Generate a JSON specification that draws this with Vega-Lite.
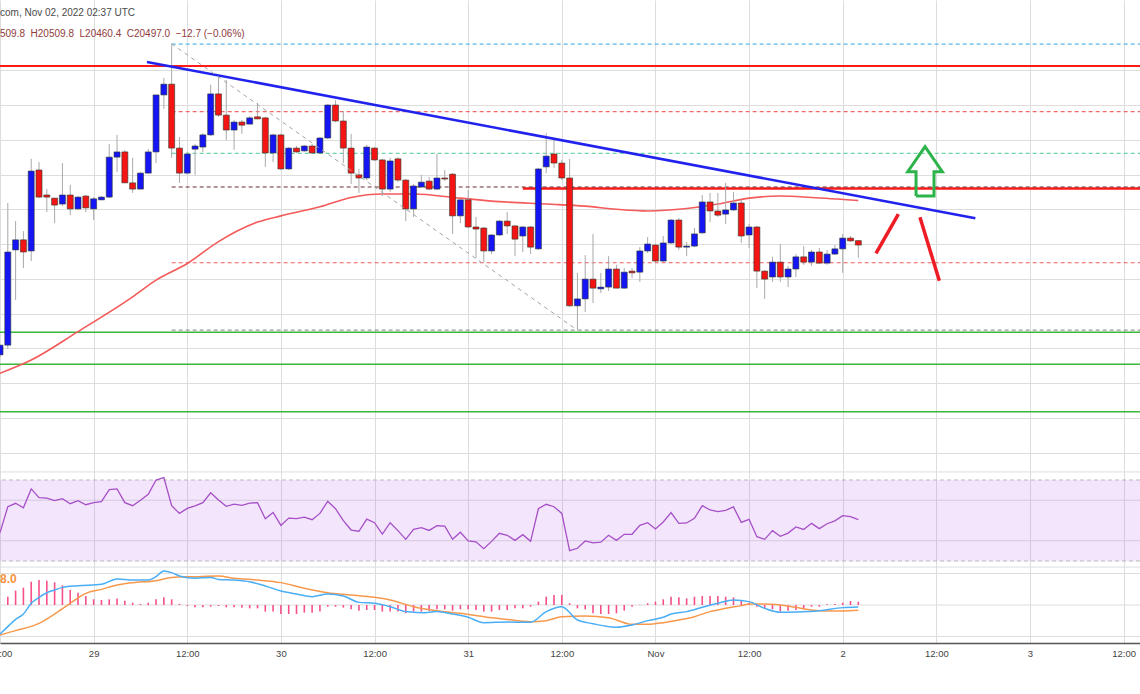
{
  "$schema": "https://vega.github.io/schema/vega-lite/v6.json",
  "width": 1140,
  "height": 643,
  "autosize": {"type": "none"},
  "padding": {"left": 0, "top": 0, "right": 0, "bottom": 51},
  "background": "#ffffff",
  "config": {"view": {"stroke": null}},
  "datasets": {
    "bars": [
      {"t":"2022-10-28T12:00:00Z","o":20181,"hi":20209,"lo":20175,"c":20209,"rsi":44.0},
      {"t":"2022-10-28T13:00:00Z","o":20209,"hi":20618,"lo":20198,"c":20477,"rsi":56.8,"hist":7.9},
      {"t":"2022-10-28T14:00:00Z","o":20483,"hi":20566,"lo":20339,"c":20512,"rsi":58.5,"hist":13.7},
      {"t":"2022-10-28T15:00:00Z","o":20512,"hi":20537,"lo":20431,"c":20477,"rsi":56.3,"hist":16.5},
      {"t":"2022-10-28T16:00:00Z","o":20480,"hi":20745,"lo":20451,"c":20710,"rsi":65.6,"hist":22.2},
      {"t":"2022-10-28T17:00:00Z","o":20713,"hi":20736,"lo":20632,"c":20635,"rsi":61.3,"hist":23.8},
      {"t":"2022-10-28T18:00:00Z","o":20641,"hi":20658,"lo":20592,"c":20635,"rsi":61.1,"hist":23.2},
      {"t":"2022-10-28T19:00:00Z","o":20632,"hi":20632,"lo":20560,"c":20612,"rsi":59.8,"hist":21.6},
      {"t":"2022-10-28T20:00:00Z","o":20615,"hi":20733,"lo":20609,"c":20641,"rsi":60.8,"hist":18.7},
      {"t":"2022-10-28T21:00:00Z","o":20641,"hi":20670,"lo":20583,"c":20601,"rsi":58.3,"hist":14.3},
      {"t":"2022-10-28T22:00:00Z","o":20601,"hi":20638,"lo":20598,"c":20635,"rsi":59.8,"hist":11.7},
      {"t":"2022-10-28T23:00:00Z","o":20638,"hi":20641,"lo":20592,"c":20604,"rsi":57.8,"hist":8.6},
      {"t":"2022-10-29T00:00:00Z","o":20601,"hi":20635,"lo":20569,"c":20630,"rsi":58.8,"hist":5.4},
      {"t":"2022-10-29T01:00:00Z","o":20627,"hi":20638,"lo":20627,"c":20635,"rsi":59.3,"hist":4.8},
      {"t":"2022-10-29T02:00:00Z","o":20635,"hi":20788,"lo":20632,"c":20750,"rsi":65.2,"hist":5.4},
      {"t":"2022-10-29T03:00:00Z","o":20750,"hi":20814,"lo":20707,"c":20765,"rsi":65.6,"hist":6.3},
      {"t":"2022-10-29T04:00:00Z","o":20765,"hi":20771,"lo":20676,"c":20676,"rsi":58.8,"hist":4.1},
      {"t":"2022-10-29T05:00:00Z","o":20676,"hi":20748,"lo":20647,"c":20658,"rsi":57.3,"hist":2.2},
      {"t":"2022-10-29T06:00:00Z","o":20658,"hi":20707,"lo":20658,"c":20704,"rsi":60.0,"hist":1.0},
      {"t":"2022-10-29T07:00:00Z","o":20704,"hi":20773,"lo":20704,"c":20765,"rsi":62.9,"hist":2.2},
      {"t":"2022-10-29T08:00:00Z","o":20765,"hi":20929,"lo":20733,"c":20929,"rsi":70.0,"hist":5.4},
      {"t":"2022-10-29T09:00:00Z","o":20929,"hi":20978,"lo":20889,"c":20960,"rsi":71.2,"hist":7.3},
      {"t":"2022-10-29T10:00:00Z","o":20960,"hi":21076,"lo":20748,"c":20776,"rsi":57.3,"hist":5.4},
      {"t":"2022-10-29T11:00:00Z","o":20776,"hi":20808,"lo":20676,"c":20704,"rsi":53.5,"hist":1.0},
      {"t":"2022-10-29T12:00:00Z","o":20704,"hi":20765,"lo":20699,"c":20759,"rsi":56.0,"hist":-1.0},
      {"t":"2022-10-29T13:00:00Z","o":20773,"hi":20788,"lo":20699,"c":20782,"rsi":57.2,"hist":-2.2},
      {"t":"2022-10-29T14:00:00Z","o":20779,"hi":20819,"lo":20765,"c":20814,"rsi":58.8,"hist":-2.2},
      {"t":"2022-10-29T15:00:00Z","o":20814,"hi":20958,"lo":20811,"c":20932,"rsi":63.7,"hist":-1.6},
      {"t":"2022-10-29T16:00:00Z","o":20932,"hi":20984,"lo":20866,"c":20871,"rsi":60.1,"hist":-1.0},
      {"t":"2022-10-29T17:00:00Z","o":20871,"hi":20972,"lo":20799,"c":20828,"rsi":57.0,"hist":-2.2},
      {"t":"2022-10-29T18:00:00Z","o":20828,"hi":20857,"lo":20771,"c":20851,"rsi":58.1,"hist":-2.2},
      {"t":"2022-10-29T19:00:00Z","o":20851,"hi":20857,"lo":20817,"c":20842,"rsi":57.5,"hist":-2.5},
      {"t":"2022-10-29T20:00:00Z","o":20845,"hi":20868,"lo":20845,"c":20863,"rsi":58.6,"hist":-3.2},
      {"t":"2022-10-29T21:00:00Z","o":20866,"hi":20906,"lo":20860,"c":20860,"rsi":58.8,"hist":-3.2},
      {"t":"2022-10-29T22:00:00Z","o":20863,"hi":20866,"lo":20722,"c":20762,"rsi":50.9,"hist":-6.3},
      {"t":"2022-10-29T23:00:00Z","o":20762,"hi":20817,"lo":20736,"c":20814,"rsi":54.0,"hist":-6.3},
      {"t":"2022-10-30T00:00:00Z","o":20814,"hi":20817,"lo":20713,"c":20716,"rsi":47.6,"hist":-8.6},
      {"t":"2022-10-30T01:00:00Z","o":20716,"hi":20779,"lo":20713,"c":20776,"rsi":51.2,"hist":-8.6},
      {"t":"2022-10-30T02:00:00Z","o":20776,"hi":20782,"lo":20762,"c":20765,"rsi":50.9,"hist":-8.6},
      {"t":"2022-10-30T03:00:00Z","o":20768,"hi":20785,"lo":20765,"c":20782,"rsi":51.7,"hist":-7.3},
      {"t":"2022-10-30T04:00:00Z","o":20782,"hi":20788,"lo":20759,"c":20762,"rsi":50.4,"hist":-7.3},
      {"t":"2022-10-30T05:00:00Z","o":20762,"hi":20808,"lo":20759,"c":20805,"rsi":53.5,"hist":-6.3},
      {"t":"2022-10-30T06:00:00Z","o":20805,"hi":20903,"lo":20802,"c":20900,"rsi":59.5,"hist":-1.6},
      {"t":"2022-10-30T07:00:00Z","o":20900,"hi":20914,"lo":20851,"c":20854,"rsi":55.8,"hist":-1.6},
      {"t":"2022-10-30T08:00:00Z","o":20854,"hi":20883,"lo":20733,"c":20776,"rsi":49.9,"hist":-2.5},
      {"t":"2022-10-30T09:00:00Z","o":20776,"hi":20817,"lo":20673,"c":20704,"rsi":45.3,"hist":-4.1},
      {"t":"2022-10-30T10:00:00Z","o":20699,"hi":20716,"lo":20647,"c":20690,"rsi":44.7,"hist":-5.4},
      {"t":"2022-10-30T11:00:00Z","o":20690,"hi":20785,"lo":20684,"c":20779,"rsi":50.7,"hist":-4.8},
      {"t":"2022-10-30T12:00:00Z","o":20776,"hi":20779,"lo":20739,"c":20742,"rsi":48.9,"hist":-4.8},
      {"t":"2022-10-30T13:00:00Z","o":20742,"hi":20745,"lo":20638,"c":20658,"rsi":43.3,"hist":-6.3},
      {"t":"2022-10-30T14:00:00Z","o":20658,"hi":20748,"lo":20650,"c":20739,"rsi":48.9,"hist":-6.3},
      {"t":"2022-10-30T15:00:00Z","o":20745,"hi":20750,"lo":20678,"c":20684,"rsi":45.0,"hist":-6.3},
      {"t":"2022-10-30T16:00:00Z","o":20684,"hi":20687,"lo":20566,"c":20601,"rsi":40.7,"hist":-7.9},
      {"t":"2022-10-30T17:00:00Z","o":20601,"hi":20673,"lo":20578,"c":20667,"rsi":45.6,"hist":-6.3},
      {"t":"2022-10-30T18:00:00Z","o":20664,"hi":20699,"lo":20661,"c":20678,"rsi":46.5,"hist":-6.3},
      {"t":"2022-10-30T19:00:00Z","o":20681,"hi":20693,"lo":20655,"c":20658,"rsi":45.1,"hist":-5.4},
      {"t":"2022-10-30T20:00:00Z","o":20658,"hi":20759,"lo":20655,"c":20690,"rsi":47.4,"hist":-4.1},
      {"t":"2022-10-30T21:00:00Z","o":20690,"hi":20713,"lo":20681,"c":20687,"rsi":47.2,"hist":-4.1},
      {"t":"2022-10-30T22:00:00Z","o":20701,"hi":20704,"lo":20529,"c":20581,"rsi":40.7,"hist":-5.4},
      {"t":"2022-10-30T23:00:00Z","o":20581,"hi":20630,"lo":20560,"c":20627,"rsi":44.2,"hist":-4.1},
      {"t":"2022-10-31T00:00:00Z","o":20627,"hi":20655,"lo":20546,"c":20549,"rsi":39.9,"hist":-4.1},
      {"t":"2022-10-31T01:00:00Z","o":20549,"hi":20578,"lo":20460,"c":20543,"rsi":39.5,"hist":-4.8},
      {"t":"2022-10-31T02:00:00Z","o":20546,"hi":20549,"lo":20448,"c":20480,"rsi":36.1,"hist":-6.3},
      {"t":"2022-10-31T03:00:00Z","o":20480,"hi":20529,"lo":20471,"c":20526,"rsi":39.7,"hist":-6.3},
      {"t":"2022-10-31T04:00:00Z","o":20526,"hi":20569,"lo":20523,"c":20566,"rsi":43.7,"hist":-4.8},
      {"t":"2022-10-31T05:00:00Z","o":20566,"hi":20592,"lo":20529,"c":20552,"rsi":42.7,"hist":-4.8},
      {"t":"2022-10-31T06:00:00Z","o":20552,"hi":20555,"lo":20465,"c":20514,"rsi":40.2,"hist":-3.2},
      {"t":"2022-10-31T07:00:00Z","o":20523,"hi":20552,"lo":20477,"c":20549,"rsi":43.0,"hist":-3.2},
      {"t":"2022-10-31T08:00:00Z","o":20549,"hi":20552,"lo":20471,"c":20491,"rsi":39.7,"hist":-1.6},
      {"t":"2022-10-31T09:00:00Z","o":20486,"hi":20719,"lo":20483,"c":20716,"rsi":55.8,"hist":3.2},
      {"t":"2022-10-31T10:00:00Z","o":20722,"hi":20819,"lo":20704,"c":20753,"rsi":58.0,"hist":7.9},
      {"t":"2022-10-31T11:00:00Z","o":20759,"hi":20799,"lo":20719,"c":20733,"rsi":56.8,"hist":9.5},
      {"t":"2022-10-31T12:00:00Z","o":20733,"hi":20742,"lo":20684,"c":20690,"rsi":53.5,"hist":9.5},
      {"t":"2022-10-31T13:00:00Z","o":20690,"hi":20745,"lo":20319,"c":20322,"rsi":35.1,"hist":1.6},
      {"t":"2022-10-31T14:00:00Z","o":20322,"hi":20417,"lo":20253,"c":20342,"rsi":36.3,"hist":-3.2},
      {"t":"2022-10-31T15:00:00Z","o":20342,"hi":20468,"lo":20304,"c":20399,"rsi":39.9,"hist":-4.1},
      {"t":"2022-10-31T16:00:00Z","o":20399,"hi":20529,"lo":20330,"c":20373,"rsi":39.0,"hist":-7.9},
      {"t":"2022-10-31T17:00:00Z","o":20371,"hi":20417,"lo":20359,"c":20376,"rsi":39.3,"hist":-8.6},
      {"t":"2022-10-31T18:00:00Z","o":20376,"hi":20465,"lo":20365,"c":20428,"rsi":42.7,"hist":-8.6},
      {"t":"2022-10-31T19:00:00Z","o":20428,"hi":20440,"lo":20373,"c":20373,"rsi":40.2,"hist":-7.9},
      {"t":"2022-10-31T20:00:00Z","o":20373,"hi":20431,"lo":20371,"c":20419,"rsi":43.2,"hist":-5.4},
      {"t":"2022-10-31T21:00:00Z","o":20422,"hi":20431,"lo":20402,"c":20417,"rsi":43.2,"hist":-1.6},
      {"t":"2022-10-31T22:00:00Z","o":20419,"hi":20491,"lo":20391,"c":20480,"rsi":47.6,"hist":0.3},
      {"t":"2022-10-31T23:00:00Z","o":20480,"hi":20520,"lo":20474,"c":20500,"rsi":48.9,"hist":1.6},
      {"t":"2022-11-01T00:00:00Z","o":20497,"hi":20500,"lo":20448,"c":20451,"rsi":45.8,"hist":3.2},
      {"t":"2022-11-01T01:00:00Z","o":20451,"hi":20523,"lo":20448,"c":20503,"rsi":49.3,"hist":5.4},
      {"t":"2022-11-01T02:00:00Z","o":20503,"hi":20572,"lo":20500,"c":20569,"rsi":53.9,"hist":7.9},
      {"t":"2022-11-01T03:00:00Z","o":20569,"hi":20575,"lo":20483,"c":20491,"rsi":48.6,"hist":7.3},
      {"t":"2022-11-01T04:00:00Z","o":20491,"hi":20506,"lo":20465,"c":20494,"rsi":48.8,"hist":6.3},
      {"t":"2022-11-01T05:00:00Z","o":20494,"hi":20546,"lo":20491,"c":20529,"rsi":51.1,"hist":7.9},
      {"t":"2022-11-01T06:00:00Z","o":20532,"hi":20641,"lo":20529,"c":20621,"rsi":57.3,"hist":8.6},
      {"t":"2022-11-01T07:00:00Z","o":20621,"hi":20647,"lo":20563,"c":20595,"rsi":55.2,"hist":8.6},
      {"t":"2022-11-01T08:00:00Z","o":20595,"hi":20647,"lo":20578,"c":20583,"rsi":54.4,"hist":8.6},
      {"t":"2022-11-01T09:00:00Z","o":20586,"hi":20676,"lo":20558,"c":20598,"rsi":55.0,"hist":7.9},
      {"t":"2022-11-01T10:00:00Z","o":20598,"hi":20650,"lo":20595,"c":20618,"rsi":56.7,"hist":7.3},
      {"t":"2022-11-01T11:00:00Z","o":20618,"hi":20627,"lo":20503,"c":20523,"rsi":49.1,"hist":4.1},
      {"t":"2022-11-01T12:00:00Z","o":20526,"hi":20558,"lo":20489,"c":20549,"rsi":50.6,"hist":2.2},
      {"t":"2022-11-01T13:00:00Z","o":20549,"hi":20552,"lo":20373,"c":20422,"rsi":42.0,"hist":-1.6},
      {"t":"2022-11-01T14:00:00Z","o":20422,"hi":20425,"lo":20342,"c":20399,"rsi":40.7,"hist":-3.2},
      {"t":"2022-11-01T15:00:00Z","o":20405,"hi":20463,"lo":20391,"c":20448,"rsi":45.0,"hist":-4.1},
      {"t":"2022-11-01T16:00:00Z","o":20448,"hi":20500,"lo":20391,"c":20405,"rsi":42.2,"hist":-6.3},
      {"t":"2022-11-01T17:00:00Z","o":20405,"hi":20437,"lo":20376,"c":20428,"rsi":43.8,"hist":-5.4},
      {"t":"2022-11-01T18:00:00Z","o":20428,"hi":20471,"lo":20405,"c":20463,"rsi":46.8,"hist":-4.8},
      {"t":"2022-11-01T19:00:00Z","o":20463,"hi":20494,"lo":20440,"c":20448,"rsi":45.6,"hist":-4.1},
      {"t":"2022-11-01T20:00:00Z","o":20448,"hi":20483,"lo":20437,"c":20477,"rsi":48.6,"hist":-1.6},
      {"t":"2022-11-01T21:00:00Z","o":20477,"hi":20489,"lo":20442,"c":20445,"rsi":46.0,"hist":-1.6},
      {"t":"2022-11-01T22:00:00Z","o":20445,"hi":20483,"lo":20440,"c":20471,"rsi":48.4,"hist":0.6},
      {"t":"2022-11-01T23:00:00Z","o":20471,"hi":20497,"lo":20468,"c":20486,"rsi":49.8,"hist":1.0},
      {"t":"2022-11-02T00:00:00Z","o":20486,"hi":20529,"lo":20417,"c":20517,"rsi":52.4,"hist":2.2},
      {"t":"2022-11-02T01:00:00Z","o":20517,"hi":20523,"lo":20506,"c":20509,"rsi":51.9,"hist":3.8},
      {"t":"2022-11-02T02:00:00Z","o":20509.8,"hi":20509.8,"lo":20460.4,"c":20497.0,"rsi":50.4,"hist":3.2}
    ],
    "ma": [
      {"t":"2022-10-28T12:00:00Z","p":20128},{"t":"2022-10-28T16:00:00Z","p":20166},{"t":"2022-10-28T22:00:00Z","p":20248},
      {"t":"2022-10-29T05:00:00Z","p":20348},{"t":"2022-10-29T08:00:00Z","p":20396},{"t":"2022-10-29T12:00:00Z","p":20444},
      {"t":"2022-10-29T16:00:00Z","p":20507},{"t":"2022-10-29T21:00:00Z","p":20563},{"t":"2022-10-30T00:00:00Z","p":20581},
      {"t":"2022-10-30T05:00:00Z","p":20607},{"t":"2022-10-30T09:00:00Z","p":20634},{"t":"2022-10-30T13:00:00Z","p":20644},
      {"t":"2022-10-30T17:00:00Z","p":20644},{"t":"2022-10-30T23:00:00Z","p":20632},{"t":"2022-10-31T04:00:00Z","p":20622},
      {"t":"2022-10-31T10:00:00Z","p":20615},{"t":"2022-10-31T15:00:00Z","p":20609},{"t":"2022-10-31T19:00:00Z","p":20600},
      {"t":"2022-10-31T23:00:00Z","p":20595},{"t":"2022-11-01T04:00:00Z","p":20602},{"t":"2022-11-01T08:00:00Z","p":20615},
      {"t":"2022-11-01T12:00:00Z","p":20632},{"t":"2022-11-01T16:00:00Z","p":20638},{"t":"2022-11-01T20:00:00Z","p":20634},
      {"t":"2022-11-02T02:00:00Z","p":20625}
    ],
    "fib": [
      {"t":"2022-10-29T10:00:00Z","t2":"2022-11-04T00:00:00Z","p":21075,"lvl":"0"},
      {"t":"2022-10-29T10:00:00Z","t2":"2022-11-04T00:00:00Z","p":20881,"lvl":"0.236"},
      {"t":"2022-10-29T10:00:00Z","t2":"2022-11-04T00:00:00Z","p":20761,"lvl":"0.382"},
      {"t":"2022-10-29T10:00:00Z","t2":"2022-11-04T00:00:00Z","p":20664,"lvl":"0.5"},
      {"t":"2022-10-29T10:00:00Z","t2":"2022-11-04T00:00:00Z","p":20446,"lvl":"0.764"},
      {"t":"2022-10-29T10:00:00Z","t2":"2022-11-04T00:00:00Z","p":20252,"lvl":"1"}
    ],
    "resLines": [{"p":21012}],
    "supLines": [{"p":20246},{"p":20154},{"p":20017}],
    "seg": [{"t":"2022-10-31T07:00:00Z","t2":"2022-11-04T00:00:00Z","p":20660}],
    "trend": [{"t":"2022-10-29T06:50:00Z","t2":"2022-11-02T17:00:00Z","p":21024,"p2":20574}],
    "diag": [{"t":"2022-10-29T10:00:00Z","t2":"2022-10-31T14:00:00Z","p":21076,"p2":20252}],
    "arrow": [
      {"k":1,"t":"2022-11-02T09:24:00Z","p":20638},
      {"k":2,"t":"2022-11-02T09:24:00Z","p":20708},
      {"k":3,"t":"2022-11-02T08:20:00Z","p":20708},
      {"k":4,"t":"2022-11-02T10:33:00Z","p":20780},
      {"k":5,"t":"2022-11-02T12:46:00Z","p":20708},
      {"k":6,"t":"2022-11-02T11:42:00Z","p":20708},
      {"k":7,"t":"2022-11-02T11:42:00Z","p":20638},
      {"k":8,"t":"2022-11-02T09:24:00Z","p":20638}
    ],
    "strokes": [
      {"t":"2022-11-02T04:16:00Z","t2":"2022-11-02T07:08:00Z","p":20473,"p2":20586},
      {"t":"2022-11-02T09:54:00Z","t2":"2022-11-02T12:23:00Z","p":20577,"p2":20394}
    ],
    "title1": [{"t":"2022-10-28T12:00:00Z","p":21166,"s":"com, Nov 02, 2022 02:37 UTC"}],
    "title2": [{"t":"2022-10-28T12:00:00Z","p":21104,"s":"509.8\u00a0\u00a0H20509.8\u00a0\u00a0L20460.4\u00a0\u00a0C20497.0\u00a0\u00a0\u221212.7 (\u22120.06%)"}],
    "rsiBand": [{"t":"2022-10-28T00:00:00Z","t2":"2022-11-04T00:00:00Z","lo":30,"hi":70}],
    "rsiLevels": [{"v":30},{"v":70}],
    "rsiGrid": [{"v":27},{"v":40},{"v":60},{"v":74}],
    "macdGrid": [{"v":-30},{"v":0},{"v":30}],
    "macd": [
      {"t":"2022-10-28T12:00:00Z","v":-27.6},{"t":"2022-10-28T13:00:00Z","v":-20.6},{"t":"2022-10-28T14:00:00Z","v":-13.7},
      {"t":"2022-10-28T15:00:00Z","v":-8.6},{"t":"2022-10-28T16:00:00Z","v":1.6},{"t":"2022-10-28T17:00:00Z","v":7.3},
      {"t":"2022-10-28T18:00:00Z","v":11.7},{"t":"2022-10-28T19:00:00Z","v":14.3},{"t":"2022-10-28T20:00:00Z","v":16.8},
      {"t":"2022-10-28T22:00:00Z","v":18.4},{"t":"2022-10-29T01:00:00Z","v":19.7},{"t":"2022-10-29T03:00:00Z","v":24.8},
      {"t":"2022-10-29T05:00:00Z","v":23.8},{"t":"2022-10-29T07:00:00Z","v":23.8},{"t":"2022-10-29T08:00:00Z","v":27},
      {"t":"2022-10-29T09:00:00Z","v":32.4},{"t":"2022-10-29T10:00:00Z","v":30.8},{"t":"2022-10-29T11:00:00Z","v":27.6},
      {"t":"2022-10-29T13:00:00Z","v":25.4},{"t":"2022-10-29T15:00:00Z","v":26.3},{"t":"2022-10-29T16:00:00Z","v":24.4},
      {"t":"2022-10-29T18:00:00Z","v":23.8},{"t":"2022-10-29T20:00:00Z","v":22.2},{"t":"2022-10-29T22:00:00Z","v":18.1},
      {"t":"2022-10-30T00:00:00Z","v":13.3},{"t":"2022-10-30T02:00:00Z","v":10.5},{"t":"2022-10-30T04:00:00Z","v":7.9},
      {"t":"2022-10-30T06:00:00Z","v":10.5},{"t":"2022-10-30T08:00:00Z","v":8.6},{"t":"2022-10-30T10:00:00Z","v":2.5},
      {"t":"2022-10-30T12:00:00Z","v":1.6},{"t":"2022-10-30T14:00:00Z","v":-1.6},{"t":"2022-10-30T16:00:00Z","v":-6.3},
      {"t":"2022-10-30T18:00:00Z","v":-7.3},{"t":"2022-10-30T20:00:00Z","v":-6.3},{"t":"2022-10-30T22:00:00Z","v":-8.6},
      {"t":"2022-10-31T00:00:00Z","v":-11.7},{"t":"2022-10-31T02:00:00Z","v":-16.8},{"t":"2022-10-31T05:00:00Z","v":-16.2},
      {"t":"2022-10-31T08:00:00Z","v":-16.5},{"t":"2022-10-31T10:00:00Z","v":-6.3},{"t":"2022-10-31T12:00:00Z","v":-1.6},
      {"t":"2022-10-31T14:00:00Z","v":-14.3},{"t":"2022-10-31T16:00:00Z","v":-17.8},{"t":"2022-10-31T18:00:00Z","v":-20.6},
      {"t":"2022-10-31T19:00:00Z","v":-21.3},{"t":"2022-10-31T21:00:00Z","v":-19.0},{"t":"2022-10-31T23:00:00Z","v":-14.9},
      {"t":"2022-11-01T01:00:00Z","v":-11.7},{"t":"2022-11-01T02:00:00Z","v":-8.6},{"t":"2022-11-01T04:00:00Z","v":-6.3},
      {"t":"2022-11-01T06:00:00Z","v":-2.2},{"t":"2022-11-01T08:00:00Z","v":1.6},{"t":"2022-11-01T10:00:00Z","v":4.8},
      {"t":"2022-11-01T12:00:00Z","v":3.2},{"t":"2022-11-01T14:00:00Z","v":-3.2},{"t":"2022-11-01T16:00:00Z","v":-7.0},
      {"t":"2022-11-01T18:00:00Z","v":-6.7},{"t":"2022-11-01T21:00:00Z","v":-5.4},{"t":"2022-11-02T00:00:00Z","v":-2.5},
      {"t":"2022-11-02T02:00:00Z","v":-1.9}
    ],
    "signal": [
      {"t":"2022-10-28T12:00:00Z","v":-28.6},{"t":"2022-10-28T14:00:00Z","v":-24.4},{"t":"2022-10-28T17:00:00Z","v":-17.5},
      {"t":"2022-10-28T19:00:00Z","v":-8.6},{"t":"2022-10-28T21:00:00Z","v":1.6},{"t":"2022-10-28T23:00:00Z","v":11.1},
      {"t":"2022-10-29T01:00:00Z","v":14.9},{"t":"2022-10-29T03:00:00Z","v":19.0},{"t":"2022-10-29T05:00:00Z","v":21.3},
      {"t":"2022-10-29T08:00:00Z","v":23.2},{"t":"2022-10-29T10:00:00Z","v":26.3},{"t":"2022-10-29T13:00:00Z","v":27},
      {"t":"2022-10-29T16:00:00Z","v":27.6},{"t":"2022-10-29T18:00:00Z","v":25.4},{"t":"2022-10-29T21:00:00Z","v":23.8},
      {"t":"2022-10-30T00:00:00Z","v":21.3},{"t":"2022-10-30T03:00:00Z","v":15.9},{"t":"2022-10-30T06:00:00Z","v":11.7},
      {"t":"2022-10-30T09:00:00Z","v":9.5},{"t":"2022-10-30T12:00:00Z","v":7.3},{"t":"2022-10-30T14:00:00Z","v":4.8},
      {"t":"2022-10-30T17:00:00Z","v":-1.6},{"t":"2022-10-30T20:00:00Z","v":-5.4},{"t":"2022-10-30T23:00:00Z","v":-7.9},
      {"t":"2022-10-31T02:00:00Z","v":-11.1},{"t":"2022-10-31T05:00:00Z","v":-13.7},{"t":"2022-10-31T08:00:00Z","v":-15.9},
      {"t":"2022-10-31T10:00:00Z","v":-14.9},{"t":"2022-10-31T12:00:00Z","v":-11.1},{"t":"2022-10-31T15:00:00Z","v":-10.5},
      {"t":"2022-10-31T18:00:00Z","v":-12.1},{"t":"2022-10-31T19:00:00Z","v":-14.3},{"t":"2022-10-31T21:00:00Z","v":-18.4},
      {"t":"2022-10-31T23:00:00Z","v":-18.4},{"t":"2022-11-01T01:00:00Z","v":-16.8},{"t":"2022-11-01T03:00:00Z","v":-14.3},
      {"t":"2022-11-01T05:00:00Z","v":-11.1},{"t":"2022-11-01T07:00:00Z","v":-6.3},{"t":"2022-11-01T09:00:00Z","v":-3.2},
      {"t":"2022-11-01T11:00:00Z","v":-0.6},{"t":"2022-11-01T12:00:00Z","v":1.0},{"t":"2022-11-01T14:00:00Z","v":1.0},
      {"t":"2022-11-01T16:00:00Z","v":0},{"t":"2022-11-01T18:00:00Z","v":-2.2},{"t":"2022-11-01T20:00:00Z","v":-4.8},
      {"t":"2022-11-01T22:00:00Z","v":-5.7},{"t":"2022-11-02T00:00:00Z","v":-5.7},{"t":"2022-11-02T02:00:00Z","v":-5.1}
    ],
    "macdLabel": [{"t":"2022-10-28T12:00:00Z","v":24.8,"s":"8.0"}]
  },
  "resolve": {"scale": {"y": "independent"}},
  "layer": [
    {
      "layer": [
        {
          "data": {"name": "resLines"},
          "mark": {"type": "rule", "color": "#ff1a1a", "strokeWidth": 2},
          "encoding": {
            "y": {"field": "p", "type": "quantitative", "scale": {"domain": [19351.8, 21202.2], "nice": false, "zero": false},
                  "axis": {"values": [19900, 20000, 20100, 20200, 20300, 20400, 20500, 20600, 20700, 20800, 20900, 21000],
                           "grid": true, "gridColor": "#dddddd", "labels": false, "ticks": false, "domain": false, "title": null}}
          }
        },
        {
          "data": {"name": "supLines"},
          "mark": {"type": "rule", "color": "#3bb53b", "strokeWidth": 1.5},
          "encoding": {
            "y": {"field": "p", "type": "quantitative", "scale": {"domain": [19351.8, 21202.2], "nice": false, "zero": false}}
          }
        },
        {
          "data": {"name": "seg"},
          "mark": {"type": "rule", "color": "#ff1a1a", "strokeWidth": 2.5, "clip": true},
          "encoding": {
            "x": {"field": "t", "type": "temporal", "scale": {"type": "utc", "domain": [1666958400000, 1667484360000], "nice": false, "padding": 0},
                  "axis": {"grid": true, "gridColor": "#dddddd", "domain": true, "domainColor": "#555555", "domainWidth": 1.5, "ticks": false,
                           "values": [1666958400000, 1667001600000, 1667044800000, 1667088000000, 1667131200000, 1667174400000, 1667217600000, 1667260800000, 1667304000000, 1667347200000, 1667390400000, 1667433600000, 1667476800000],
                           "labelExpr": "utchours(datum.value) == 12 ? '12:00' : (utcdate(datum.value) == 1 ? utcFormat(datum.value, '%b') : '' + utcdate(datum.value))",
                           "labelFlush": false, "labelOverlap": false, "labelFont": "Liberation Sans", "labelFontSize": 9.5, "labelColor": "#444444", "labelPadding": 5, "title": null}},
            "x2": {"field": "t2"},
            "y": {"field": "p", "type": "quantitative", "scale": {"domain": [19351.8, 21202.2], "nice": false, "zero": false}}
          }
        },
        {
          "data": {"name": "fib"},
          "mark": {"type": "rule", "strokeWidth": 1.2, "strokeDash": [4, 3], "clip": true},
          "encoding": {
            "x": {"field": "t", "type": "temporal", "scale": {"type": "utc", "domain": [1666958400000, 1667484360000], "nice": false, "padding": 0}},
            "x2": {"field": "t2"},
            "y": {"field": "p", "type": "quantitative", "scale": {"domain": [19351.8, 21202.2], "nice": false, "zero": false}},
            "color": {"field": "lvl", "type": "nominal", "legend": null,
                      "scale": {"domain": ["0", "0.236", "0.382", "0.5", "0.764", "1"],
                                "range": ["#5ab8ea", "#f06a6a", "#6fd3a8", "#6b2e2e", "#ee5e5e", "#9a9a9a"]}}
          }
        },
        {
          "data": {"name": "ma"},
          "mark": {"type": "line", "color": "#f45a5a", "strokeWidth": 1.6, "interpolate": "monotone"},
          "encoding": {
            "x": {"field": "t", "type": "temporal", "scale": {"type": "utc", "domain": [1666958400000, 1667484360000], "nice": false, "padding": 0}},
            "y": {"field": "p", "type": "quantitative", "scale": {"domain": [19351.8, 21202.2], "nice": false, "zero": false}}
          }
        },
        {
          "data": {"name": "bars"},
          "mark": {"type": "rule", "color": "#a9a9a9", "strokeWidth": 1},
          "encoding": {
            "x": {"field": "t", "type": "temporal", "scale": {"type": "utc", "domain": [1666958400000, 1667484360000], "nice": false, "padding": 0}},
            "y": {"field": "lo", "type": "quantitative", "scale": {"domain": [19351.8, 21202.2], "nice": false, "zero": false}},
            "y2": {"field": "hi"}
          }
        },
        {
          "data": {"name": "bars"},
          "mark": {"type": "bar", "width": 6, "stroke": "#2f3a2f", "strokeWidth": 0.6},
          "encoding": {
            "x": {"field": "t", "type": "temporal", "scale": {"type": "utc", "domain": [1666958400000, 1667484360000], "nice": false, "padding": 0}},
            "y": {"field": "o", "type": "quantitative", "scale": {"domain": [19351.8, 21202.2], "nice": false, "zero": false}},
            "y2": {"field": "c"},
            "fill": {"condition": {"test": "datum.c >= datum.o", "value": "#1414f5"}, "value": "#f51414"}
          }
        },
        {
          "data": {"name": "trend"},
          "mark": {"type": "rule", "color": "#2222ee", "strokeWidth": 2.6},
          "encoding": {
            "x": {"field": "t", "type": "temporal", "scale": {"type": "utc", "domain": [1666958400000, 1667484360000], "nice": false, "padding": 0}},
            "x2": {"field": "t2"},
            "y": {"field": "p", "type": "quantitative", "scale": {"domain": [19351.8, 21202.2], "nice": false, "zero": false}},
            "y2": {"field": "p2"}
          }
        },
        {
          "data": {"name": "diag"},
          "mark": {"type": "rule", "color": "#a3a3a3", "strokeWidth": 1, "strokeDash": [4, 4]},
          "encoding": {
            "x": {"field": "t", "type": "temporal", "scale": {"type": "utc", "domain": [1666958400000, 1667484360000], "nice": false, "padding": 0}},
            "x2": {"field": "t2"},
            "y": {"field": "p", "type": "quantitative", "scale": {"domain": [19351.8, 21202.2], "nice": false, "zero": false}},
            "y2": {"field": "p2"}
          }
        },
        {
          "data": {"name": "arrow"},
          "mark": {"type": "line", "color": "#2cb34a", "strokeWidth": 3, "strokeJoin": "miter"},
          "encoding": {
            "x": {"field": "t", "type": "temporal", "scale": {"type": "utc", "domain": [1666958400000, 1667484360000], "nice": false, "padding": 0}},
            "y": {"field": "p", "type": "quantitative", "scale": {"domain": [19351.8, 21202.2], "nice": false, "zero": false}},
            "order": {"field": "k", "type": "quantitative"}
          }
        },
        {
          "data": {"name": "strokes"},
          "mark": {"type": "rule", "color": "#ee1c24", "strokeWidth": 3.5},
          "encoding": {
            "x": {"field": "t", "type": "temporal", "scale": {"type": "utc", "domain": [1666958400000, 1667484360000], "nice": false, "padding": 0}},
            "x2": {"field": "t2"},
            "y": {"field": "p", "type": "quantitative", "scale": {"domain": [19351.8, 21202.2], "nice": false, "zero": false}},
            "y2": {"field": "p2"}
          }
        },
        {
          "data": {"name": "title1"},
          "mark": {"type": "text", "align": "left", "baseline": "middle", "font": "Liberation Sans", "fontSize": 10, "color": "#4a4a4a"},
          "encoding": {
            "x": {"field": "t", "type": "temporal", "scale": {"type": "utc", "domain": [1666958400000, 1667484360000], "nice": false, "padding": 0}},
            "y": {"field": "p", "type": "quantitative", "scale": {"domain": [19351.8, 21202.2], "nice": false, "zero": false}},
            "text": {"field": "s"}
          }
        },
        {
          "data": {"name": "title2"},
          "mark": {"type": "text", "align": "left", "baseline": "middle", "font": "Liberation Sans", "fontSize": 10, "color": "#8f3b3b"},
          "encoding": {
            "x": {"field": "t", "type": "temporal", "scale": {"type": "utc", "domain": [1666958400000, 1667484360000], "nice": false, "padding": 0}},
            "y": {"field": "p", "type": "quantitative", "scale": {"domain": [19351.8, 21202.2], "nice": false, "zero": false}},
            "text": {"field": "s"}
          }
        }
      ]
    },
    {
      "layer": [
        {
          "data": {"name": "rsiGrid"},
          "mark": {"type": "rule", "color": "#dddddd", "strokeWidth": 1},
          "encoding": {
            "y": {"field": "v", "type": "quantitative", "axis": null, "scale": {"domain": [-10.49, 307.04], "nice": false, "zero": false}}
          }
        },
        {
          "data": {"name": "rsiBand"},
          "mark": {"type": "rect", "color": "#af58eb", "opacity": 0.15, "clip": true},
          "encoding": {
            "x": {"field": "t", "type": "temporal", "scale": {"type": "utc", "domain": [1666958400000, 1667484360000], "nice": false, "padding": 0}},
            "x2": {"field": "t2"},
            "y": {"field": "lo", "type": "quantitative", "axis": null, "scale": {"domain": [-10.49, 307.04], "nice": false, "zero": false}},
            "y2": {"field": "hi"}
          }
        },
        {
          "data": {"name": "rsiLevels"},
          "mark": {"type": "rule", "color": "#b8b8b8", "strokeWidth": 1, "strokeDash": [4, 3]},
          "encoding": {
            "y": {"field": "v", "type": "quantitative", "axis": null, "scale": {"domain": [-10.49, 307.04], "nice": false, "zero": false}}
          }
        },
        {
          "data": {"name": "bars"},
          "mark": {"type": "line", "color": "#a64fc7", "strokeWidth": 1.3},
          "encoding": {
            "x": {"field": "t", "type": "temporal", "scale": {"type": "utc", "domain": [1666958400000, 1667484360000], "nice": false, "padding": 0}},
            "y": {"field": "rsi", "type": "quantitative", "axis": null, "scale": {"domain": [-10.49, 307.04], "nice": false, "zero": false}}
          }
        }
      ]
    },
    {
      "layer": [
        {
          "data": {"name": "macdGrid"},
          "mark": {"type": "rule", "color": "#dddddd", "strokeWidth": 1},
          "encoding": {
            "y": {"field": "v", "type": "quantitative", "axis": null, "scale": {"domain": [-36.19, 576.19], "nice": false, "zero": false}}
          }
        },
        {
          "data": {"name": "bars"},
          "mark": {"type": "bar", "width": 1.6, "color": "#f5508c"},
          "encoding": {
            "x": {"field": "t", "type": "temporal", "scale": {"type": "utc", "domain": [1666958400000, 1667484360000], "nice": false, "padding": 0}},
            "y": {"field": "hist", "type": "quantitative", "axis": null, "scale": {"domain": [-36.19, 576.19], "nice": false, "zero": false}},
            "y2": {"datum": 0}
          }
        },
        {
          "data": {"name": "signal"},
          "mark": {"type": "line", "color": "#f7994d", "strokeWidth": 1.5, "interpolate": "monotone"},
          "encoding": {
            "x": {"field": "t", "type": "temporal", "scale": {"type": "utc", "domain": [1666958400000, 1667484360000], "nice": false, "padding": 0}},
            "y": {"field": "v", "type": "quantitative", "axis": null, "scale": {"domain": [-36.19, 576.19], "nice": false, "zero": false}}
          }
        },
        {
          "data": {"name": "macd"},
          "mark": {"type": "line", "color": "#49aef5", "strokeWidth": 1.5, "interpolate": "monotone"},
          "encoding": {
            "x": {"field": "t", "type": "temporal", "scale": {"type": "utc", "domain": [1666958400000, 1667484360000], "nice": false, "padding": 0}},
            "y": {"field": "v", "type": "quantitative", "axis": null, "scale": {"domain": [-36.19, 576.19], "nice": false, "zero": false}}
          }
        },
        {
          "data": {"name": "macdLabel"},
          "mark": {"type": "text", "align": "left", "baseline": "middle", "font": "Liberation Sans", "fontSize": 12, "fontWeight": "bold", "color": "#f5923e"},
          "encoding": {
            "x": {"field": "t", "type": "temporal", "scale": {"type": "utc", "domain": [1666958400000, 1667484360000], "nice": false, "padding": 0}},
            "y": {"field": "v", "type": "quantitative", "axis": null, "scale": {"domain": [-36.19, 576.19], "nice": false, "zero": false}},
            "text": {"field": "s"}
          }
        }
      ]
    }
  ]
}
